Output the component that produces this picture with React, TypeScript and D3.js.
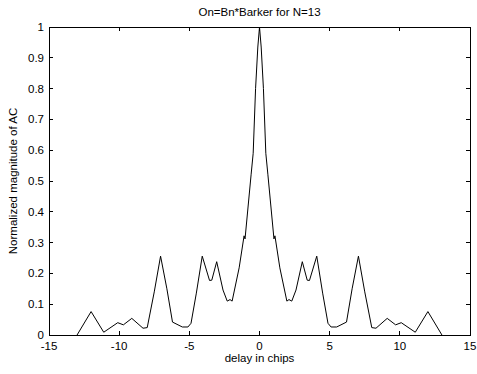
import React from "react";
import * as d3 from "d3";

const delay: number[] = [
  -13.0, -12.0, -11.1, -10.1, -9.7, -9.1, -8.3, -8.0, -7.5, -7.05, -6.6, -6.2,
  -5.5, -5.1, -4.88, -4.5, -4.08, -3.56, -3.4, -3.05, -2.6, -2.3, -2.1, -1.95,
  -1.45, -1.1, -1.03, -0.6, -0.45, -0.28, -0.12, 0,
  0.12, 0.28, 0.45, 0.6, 1.03, 1.1, 1.45, 1.95, 2.1, 2.3, 2.6, 3.05, 3.4, 3.56, 4.08, 4.5,
  4.88, 5.1, 5.5, 6.2, 6.6, 7.05, 7.5, 8.0, 8.3, 9.1, 9.7, 10.1, 11.1, 12.0, 13.0,
];
const magnitude: number[] = [
  0, 0.076, 0.009, 0.04, 0.033, 0.054, 0.022, 0.024, 0.14, 0.256, 0.15, 0.042,
  0.026, 0.026, 0.038, 0.136, 0.256, 0.177, 0.178, 0.238, 0.146, 0.11, 0.115, 0.11,
  0.218, 0.322, 0.312, 0.52, 0.59, 0.8, 0.935, 1.0,
  0.935, 0.8, 0.59, 0.52, 0.312, 0.322, 0.218, 0.11, 0.115, 0.11, 0.146, 0.238, 0.178, 0.177, 0.256, 0.136,
  0.038, 0.026, 0.026, 0.042, 0.15, 0.256, 0.14, 0.024, 0.022, 0.054, 0.033, 0.04, 0.009, 0.076, 0,
];
const xTicks: number[] = [-15, -10, -5, 0, 5, 10, 15];
const yTicks: number[] = [0, 0.1, 0.2, 0.3, 0.4, 0.5, 0.6, 0.7, 0.8, 0.9, 1];
const titleText = "On=Bn*Barker for N=13";
const xLabel = "delay in chips";
const yLabel = "Normalized magnitude of AC";

export default function App() {
  const W = 477, H = 374;
  const left = 49, right = 470, top = 27, bottom = 335;
  const x = d3.scaleLinear().domain([-15, 15]).range([left, right]);
  const y = d3.scaleLinear().domain([0, 1]).range([bottom, top]);
  const line = d3
    .line<number>()
    .x((_, i) => x(delay[i]))
    .y((d) => y(d));
  const font = "'Liberation Sans', Arial, sans-serif";
  const fs = 11.5;
  const tl = 4;
  return (
    <svg
      width={W}
      height={H}
      style={{ position: "absolute", left: 0, top: 0, background: "#fff" }}
      fontFamily={font}
    >
      <rect x={0} y={0} width={W} height={H} fill="#fff" />
      <text x={(left + right) / 2} y={16} textAnchor="middle" fontSize={fs} fill="#000">
        {titleText}
      </text>
      <path d={line(magnitude) || ""} fill="none" stroke="#000" strokeWidth={1} />
      <rect x={left} y={top} width={right - left} height={bottom - top} fill="none" stroke="#000" strokeWidth={1} shapeRendering="crispEdges" />
      {xTicks.map((t) => (
        <g key={"x" + t}>
          <line x1={x(t)} x2={x(t)} y1={bottom} y2={bottom - tl} stroke="#000" shapeRendering="crispEdges" />
          <line x1={x(t)} x2={x(t)} y1={top} y2={top + tl} stroke="#000" shapeRendering="crispEdges" />
          <text x={x(t)} y={bottom + 15} textAnchor="middle" fontSize={fs} fill="#000">
            {t}
          </text>
        </g>
      ))}
      {yTicks.map((t) => (
        <g key={"y" + t}>
          <line x1={left} x2={left + tl} y1={y(t)} y2={y(t)} stroke="#000" shapeRendering="crispEdges" />
          <line x1={right} x2={right - tl} y1={y(t)} y2={y(t)} stroke="#000" shapeRendering="crispEdges" />
          <text x={left - 5} y={y(t) + 4} textAnchor="end" fontSize={fs} fill="#000">
            {String(t)}
          </text>
        </g>
      ))}
      <text x={(left + right) / 2} y={362} textAnchor="middle" fontSize={fs} fill="#000">
        {xLabel}
      </text>
      <text
        transform={`translate(17, ${(top + bottom) / 2}) rotate(-90)`}
        textAnchor="middle"
        fontSize={fs}
        fill="#000"
      >
        {yLabel}
      </text>
    </svg>
  );
}
